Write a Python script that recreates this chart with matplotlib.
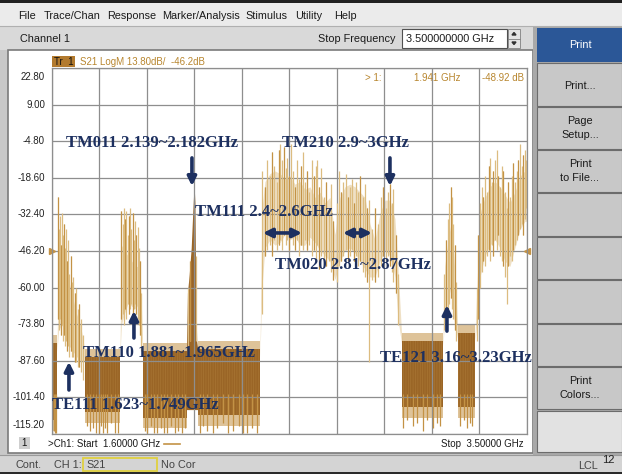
import numpy as np
import matplotlib
matplotlib.use("Agg")
import matplotlib.pyplot as plt
from matplotlib.patches import Rectangle, Polygon

W, H = 622, 474

# Sweep settings shown on the analyzer screen
start_ghz = 1.6
stop_ghz = 3.5
top_db = 22.8
bottom_db = -115.2
ref_db = -46.2
y_values = [22.8, 9.0, -4.8, -18.6, -32.4, -46.2, -60.0, -73.8, -87.6, -101.4, -115.2]
y_labels = ["22.80", "9.00", "-4.80", "-18.60", "-32.40", "-46.20",
            "-60.00", "-73.80", "-87.60", "-101.40", "-115.20"]
x_grid = [1.6, 1.79, 1.98, 2.17, 2.36, 2.55, 2.74, 2.93, 3.12, 3.31, 3.5]

# Dense noise floor blocks (stop bands)
floor_start = [1.600, 1.733, 1.965, 2.185, 3.001, 3.225]
floor_stop = [1.621, 1.873, 2.141, 2.433, 3.165, 3.293]
floor_top = [-81, -86, -84, -83, -80, -77]
floor_bottom = [-110, -107, -109, -108, -105, -105]

# Downward noise spikes out of the floor blocks
floor_spike_f = [1.603, 1.608, 1.613, 1.618, 1.741, 1.752, 1.766, 1.779, 1.789, 1.797,
                 1.805, 1.813, 1.821, 1.837, 1.853, 1.865, 1.973, 1.981, 1.996, 2.009,
                 2.021, 2.037, 2.049, 2.061, 2.077, 2.093, 2.107, 2.121, 2.133, 2.193,
                 2.205, 2.221, 2.245, 2.261, 2.285, 2.305, 2.325, 2.349, 2.365, 2.381,
                 2.401, 2.421, 3.005, 3.021, 3.045, 3.061, 3.085, 3.101, 3.125, 3.141,
                 3.153, 3.233, 3.249, 3.261, 3.273, 3.281]
floor_spike_db = [-115, -114, -115, -115, -112, -114, -113, -115, -115, -112,
                  -115, -113, -115, -111, -115, -115, -114, -115, -112, -115,
                  -115, -113, -115, -115, -112, -115, -114, -115, -113, -115,
                  -112, -114, -115, -113, -111, -115, -114, -112, -115, -115,
                  -113, -115, -113, -110, -112, -111, -114, -110, -113, -111,
                  -112, -112, -110, -113, -111, -112]

# Pass band envelopes (GHz, upper dB, lower dB)
te111_f = [1.621, 1.628, 1.640, 1.655, 1.670, 1.685, 1.700, 1.715, 1.733]
te111_hi = [-82, -52, -48, -52, -58, -64, -70, -74, -84]
te111_lo = [-84, -76, -74, -78, -82, -84, -86, -88, -88]

tm110_f = [1.873, 1.879, 1.890, 1.905, 1.920, 1.935, 1.948, 1.957, 1.965]
tm110_hi = [-84, -44, -46, -48, -50, -52, -52, -62, -84]
tm110_lo = [-86, -74, -70, -66, -67, -68, -66, -76, -86]

tm011_f = [2.139, 2.143, 2.150, 2.158, 2.164, 2.168, 2.170, 2.173, 2.176, 2.180, 2.185]
tm011_hi = [-84, -62, -55, -45, -32, -24, -22, -28, -60, -80, -84]
tm011_lo = [-106, -106, -106, -106, -106, -106, -106, -106, -106, -106, -106]

upper_f = [2.433, 2.441, 2.453, 2.473, 2.493, 2.513, 2.533, 2.553, 2.573, 2.593, 2.613,
           2.633, 2.653, 2.673, 2.693, 2.713, 2.733, 2.753, 2.773, 2.793, 2.813, 2.833,
           2.853, 2.873, 2.893, 2.913, 2.933, 2.953, 2.973, 2.985, 3.001]
upper_hi = [-84, -30, -20, -17, -16, -17, -19, -18, -21, -20, -23, -22, -26, -24, -28,
            -26, -40, -26, -22, -21, -22, -24, -26, -36, -42, -32, -27, -27, -34, -52, -80]
upper_lo = [-86, -60, -45, -42, -44, -43, -40, -42, -41, -44, -44, -41, -43, -46, -48,
            -50, -57, -50, -46, -45, -47, -50, -53, -56, -56, -50, -46, -48, -56, -72, -82]

te121_f = [3.165, 3.172, 3.180, 3.189, 3.197, 3.205, 3.213, 3.225]
te121_hi = [-80, -52, -46, -40, -36, -44, -54, -78]
te121_lo = [-82, -72, -68, -63, -60, -70, -74, -80]

right_f = [3.293, 3.305, 3.313, 3.333, 3.353, 3.373, 3.393, 3.413, 3.433, 3.453, 3.473, 3.493, 3.5]
right_hi = [-78, -50, -32, -26, -22, -20, -22, -25, -28, -24, -18, -16, -20]
right_lo = [-80, -70, -56, -48, -44, -42, -45, -50, -52, -45, -38, -35, -35]

# Individual spikes in the pass bands (GHz, top dB, bottom dB)
spike_f = [1.625, 1.629, 1.634, 1.638, 1.642, 1.646, 1.650, 1.654, 1.658, 1.662, 1.667,
           1.671, 1.676, 1.681, 1.686, 1.692, 1.698, 1.704, 1.711, 1.718, 1.726,
           1.879, 1.884, 1.889, 1.894, 1.899, 1.904, 1.909, 1.914, 1.919, 1.924, 1.929,
           1.934, 1.939, 1.944, 1.949, 1.954, 1.959,
           2.147, 2.154, 2.177,
           2.441, 2.452, 2.462, 2.472, 2.482, 2.490, 2.500, 2.508, 2.514, 2.522, 2.528,
           2.536, 2.542, 2.550, 2.556, 2.564, 2.572, 2.580, 2.588, 2.596, 2.606, 2.614,
           2.622, 2.630, 2.640, 2.648, 2.656, 2.662, 2.670, 2.678, 2.688, 2.698, 2.708,
           2.716, 2.726, 2.740, 2.750, 2.758, 2.766, 2.776, 2.784, 2.792, 2.800, 2.808,
           2.816, 2.826, 2.834, 2.844, 2.852, 2.862, 2.870, 2.880, 2.894, 2.906, 2.918,
           2.926, 2.936, 2.946, 2.953, 2.960, 2.966, 2.976, 2.986,
           3.170, 3.177, 3.184, 3.190, 3.196, 3.201, 3.207, 3.213, 3.219,
           3.300, 3.306, 3.313, 3.320, 3.327, 3.334, 3.341, 3.348, 3.353, 3.360, 3.367,
           3.374, 3.380, 3.387, 3.394, 3.400, 3.406, 3.413, 3.420, 3.427, 3.434, 3.440,
           3.446, 3.453, 3.460, 3.467, 3.473, 3.480, 3.487, 3.493, 3.498]
spike_top = [-26, -38, -33, -44, -32, -40, -36, -45, -38, -50, -42,
             -55, -48, -58, -56, -62, -60, -68, -66, -72, -78,
             -31, -36, -30, -34, -31, -40, -33, -30, -38, -32, -42,
             -35, -40, -37, -45, -50, -62,
             -60, -50, -48,
             -16, -22, -12, -18, -9, -14, -20, -8, -6, -12, -7,
             -15, -11, -18, -6, -16, -22, -12, -19, -14, -9, -20,
             -16, -24, -12, -18, -14, -12, -22, -15, -26, -20, -30,
             -21, -35, -28, -16, -24, -20, -17, -26, -22, -19, -28,
             -20, -24, -18, -26, -21, -30, -27, -38, -30, -36, -26,
             -22, -30, -24, -21, -28, -23, -40, -55,
             -55, -42, -34, -28, -22, -26, -36, -44, -58,
             -60, -40, -28, -22, -26, -18, -24, -14, -11, -20, -16,
             -12, -8, -18, -22, -14, -16, -24, -30, -20, -26, -18,
             -13, -20, -16, -12, -6, -14, -10, -8, -12]
spike_bot = [-72, -76, -72, -78, -74, -80, -78, -82, -80, -84, -82,
             -86, -84, -86, -86, -88, -88, -90, -90, -92, -95,
             -72, -70, -74, -68, -72, -66, -70, -68, -66, -70, -68,
             -66, -70, -72, -74, -78, -84,
             -84, -80, -80,
             -70, -48, -46, -44, -48, -42, -46, -44, -42, -46, -40,
             -44, -42, -46, -40, -44, -46, -42, -48, -44, -46, -42,
             -46, -44, -48, -46, -50, -44, -53, -48, -50, -52, -50,
             -54, -57, -58, -52, -50, -48, -46, -50, -48, -46, -50,
             -48, -52, -50, -54, -56, -58, -88, -57, -58, -56, -52,
             -48, -50, -48, -52, -54, -58, -62, -74,
             -76, -72, -70, -66, -64, -68, -72, -76, -80,
             -80, -72, -60, -54, -50, -52, -48, -46, -50, -44, -48,
             -42, -46, -40, -48, -50, -52, -56, -66, -52, -48, -50,
             -46, -44, -42, -40, -38, -36, -40, -34, -30]

# Annotations: (text, GHz, dB)
notes = [("TM011 2.139~2.182GHz", 1.657, -5.5),
         ("TM210 2.9~3GHz", 2.521, -5.5),
         ("TM111 2.4~2.6GHz", 2.174, -31.5),
         ("TM020 2.81~2.87GHz", 2.493, -51.5),
         ("TM110 1.881~1.965GHz", 1.725, -84.7),
         ("TE111 1.623~1.749GHz", 1.601, -104.3),
         ("TE121 3.16~3.23GHz", 2.913, -86.5)]

dark = "#9a6526"
streak = "#a87533"
light = "#dcbc80"
mid = "#c39245"
navy = "#1d3060"
amber = "#b8862f"

plt.rcParams["hatch.linewidth"] = 0.5

fig = plt.figure(figsize=(W / 100, H / 100), dpi=100)
fig.patch.set_facecolor("#d3d3d3")

# Screen chrome in pixel coordinates
ui = fig.add_axes([0, 0, 1, 1])
ui.set_xlim(0, W)
ui.set_ylim(H, 0)
ui.axis("off")

def box(x0, y0, x1, y1, fc, ec="none", lw=1.0):
    ui.add_patch(Rectangle((x0, y0), x1 - x0, y1 - y0, facecolor=fc, edgecolor=ec, lw=lw))

ui_font = dict(family="Liberation Sans", fontsize=7.8, color="#1a1a1a", va="center")

box(0, 0, W, 2.5, "#202020")
box(0, 2.5, W, 26, "#ebebeb")
box(0, 26, W, 50, "#d9d9d9")
ui.plot([0, W], [26, 26], color="#b0b0b0", lw=0.8)
for word, x in [("File", 18), ("Trace/Chan", 44), ("Response", 107), ("Marker/Analysis", 162),
                ("Stimulus", 245), ("Utility", 295), ("Help", 334)]:
    ui.text(x, 15.5, word, **ui_font)
ui.text(20, 38.5, "Channel 1", **ui_font)
ui.text(396, 38.5, "Stop Frequency", ha="right", **ui_font)
box(402, 29, 507, 48, "white", "#505050", 0.8)
ui.text(406, 38.5, "3.500000000 GHz", **ui_font)
box(508, 29, 520, 48, "#e4e4e4", "#808080", 0.6)
ui.plot([508, 520], [38.5, 38.5], color="#808080", lw=0.6)
ui.add_patch(Polygon([[512, 35], [516, 35], [514, 32.5]], color="#303030"))
ui.add_patch(Polygon([[512, 42], [516, 42], [514, 44.5]], color="#303030"))

# Plot window
box(0, 50, 537, 455, "#c8c8c8")
box(8, 50, 533, 453, "white", "#7a7a7a", 1.2)

# Soft key panel
box(533, 26, W, 455, "#a9a9a9")
box(537, 28, W, 62, "#2b5797")
ui.text(580, 45, "Print", ha="center", va="center", family="Liberation Sans",
        fontsize=7.8, color="white")
edges = [63, 107, 150, 193, 237, 280, 324, 367, 410]
for i in range(len(edges) - 1):
    box(537, edges[i], W, edges[i + 1] - 1, "#c8c8c8", "#6c6c6c", 0.8)
box(537, 411, W, 452, "#e2e2e2", "#6c6c6c", 0.8)
for label, y in [("Print...", 86), ("Page\nSetup...", 128), ("Print\nto File...", 171),
                 ("Print\nColors...", 388)]:
    ui.text(580, y, label, ha="center", va="center", family="Liberation Sans",
            fontsize=7.8, color="#1a1a1a", linespacing=1.6)

# Status bar
box(0, 455, W, 472, "#d4d4d4")
ui.plot([0, W], [455, 455], color="#9a9a9a", lw=0.8)
box(0, 472, W, H, "#2a2a2a")
status_font = dict(family="Liberation Sans", fontsize=7.8, color="#444444", va="center")
ui.text(15, 465, "Cont.", **status_font)
ui.text(54, 465, "CH 1:", **status_font)
box(83, 458, 157, 470.5, "none", "#e0d040", 1.3)
ui.text(86, 464.5, "S21", **status_font)
ui.text(161, 465, "No Cor", **status_font)
ui.text(578, 466, "LCL", **status_font)
ui.text(602, 460, "12", family="Liberation Sans", fontsize=8, color="#222222", va="center")

# Trace header and footer inside the plot window
box(52, 56, 75, 66.5, "#b27a2e")
ui.text(54, 61.5, "Tr  1", family="Liberation Sans", fontsize=7, color="#111111", va="center")
ui.text(80, 61.5, "S21 LogM 13.80dB/  -46.2dB", family="Liberation Sans", fontsize=7,
        color=amber, va="center")
box(19, 437, 30, 449, "#cfcfcf")
ui.text(24.5, 443, "1", ha="center", va="center", family="Liberation Sans", fontsize=7,
        color="#111111")
ui.text(48, 444, ">Ch1: Start  1.60000 GHz", family="Liberation Sans", fontsize=7,
        color="#1a1a1a", va="center")
ui.plot([164, 180], [444, 444], color=mid, lw=1.2)
ui.text(524, 444, "Stop  3.50000 GHz", ha="right", family="Liberation Sans", fontsize=7,
        color="#1a1a1a", va="center")

# Data area
left, right, top, bottom = 51.7, 526.7, 68.0, 434.0
ax = fig.add_axes([left / W, 1 - bottom / H, (right - left) / W, (bottom - top) / H])
ax.set_zorder(2)
ax.set_facecolor("white")
ax.set_xlim(start_ghz, stop_ghz)
ax.set_ylim(bottom_db, top_db)
ax.set_xticks(x_grid)
ax.set_yticks(y_values)
ax.grid(True, color="#8e8e8e", lw=0.9)
ax.tick_params(length=0, labelbottom=False, labelleft=False)
for s in ax.spines.values():
    s.set_color("#8e8e8e")
    s.set_linewidth(0.9)

for k, (val, lab) in enumerate(zip(y_values, y_labels)):
    va = "center"
    if k == 0:
        va = "top"
        val = val - 1.5
    elif k == len(y_values) - 1:
        va = "bottom"
        val = val + 1.5
    ax.text(-0.014, val, lab, transform=ax.get_yaxis_transform(), ha="right", va=va,
            family="Liberation Sans", fontsize=7, color="#222222")

# marker readout
ax.text(0.66, 0.985, "> 1:", transform=ax.transAxes, ha="left", va="top",
        family="Liberation Sans", fontsize=7, color=amber)
ax.text(0.861, 0.985, "1.941 GHz", transform=ax.transAxes, ha="right", va="top",
        family="Liberation Sans", fontsize=7, color=amber)
ax.text(0.994, 0.985, "-48.92 dB", transform=ax.transAxes, ha="right", va="top",
        family="Liberation Sans", fontsize=7, color=amber)

# reference level markers
ax.plot([start_ghz], [ref_db], marker=">", ms=5, color=mid, clip_on=False)
ax.plot([stop_ghz], [ref_db], marker="<", ms=5, color=mid, clip_on=False)

# trace: pass band bodies
for f, hi, lo in [(te111_f, te111_hi, te111_lo), (tm110_f, tm110_hi, tm110_lo),
                  (upper_f, upper_hi, upper_lo), (te121_f, te121_hi, te121_lo),
                  (right_f, right_hi, right_lo)]:
    ax.fill_between(f, lo, hi, color=light, alpha=0.45, lw=0)
ax.vlines(spike_f, spike_bot, spike_top, color=light, lw=0.9)
ax.vlines(spike_f[::3], spike_bot[::3], spike_top[::3], color=mid, lw=0.8)

# trace: noise floor blocks
for f0, f1, t, b in zip(floor_start, floor_stop, floor_top, floor_bottom):
    ax.fill_between([f0, f1], [t, t], [t + 3, t + 3], color=mid, alpha=0.55, lw=0)
    ax.fill_between([f0, f1], [b - 4, b - 4], [b, b], color=mid, alpha=0.55, lw=0)
    ax.fill_between([f0, f1], [b, b], [t, t], facecolor=dark, edgecolor=streak,
                    hatch="|||||||", lw=0)
ax.fill_between(tm011_f, tm011_lo, tm011_hi, color=dark, lw=0)
ax.vlines(floor_spike_f, floor_spike_db, -100, color=mid, lw=0.9)

# mode labels and arrows
for txt, fx, dy in notes:
    ax.text(fx, dy, txt, ha="left", va="center", family="Liberation Serif",
            fontweight="bold", fontsize=12, color=navy, clip_on=False, zorder=5)

arrow = dict(arrowstyle="-|>", color=navy, lw=2.6, mutation_scale=13, shrinkA=0, shrinkB=0)
both = dict(arrowstyle="<|-|>", color=navy, lw=2.6, mutation_scale=13, shrinkA=0, shrinkB=0)
ax.annotate("", xy=(2.161, -21.7), xytext=(2.161, -11.1), arrowprops=arrow, zorder=5)
ax.annotate("", xy=(2.953, -21.7), xytext=(2.953, -11.1), arrowprops=arrow, zorder=5)
ax.annotate("", xy=(1.929, -68.8), xytext=(1.929, -79.0), arrowprops=arrow, zorder=5)
ax.annotate("", xy=(1.669, -88.0), xytext=(1.669, -98.6), arrowprops=arrow, zorder=5)
ax.annotate("", xy=(3.181, -66.6), xytext=(3.181, -76.4), arrowprops=arrow, zorder=5)
ax.annotate("", xy=(2.445, -39.4), xytext=(2.601, -39.4), arrowprops=both, zorder=5)
ax.annotate("", xy=(2.765, -39.4), xytext=(2.881, -39.4), arrowprops=both, zorder=5)

fig.savefig("out.png", dpi=100)
